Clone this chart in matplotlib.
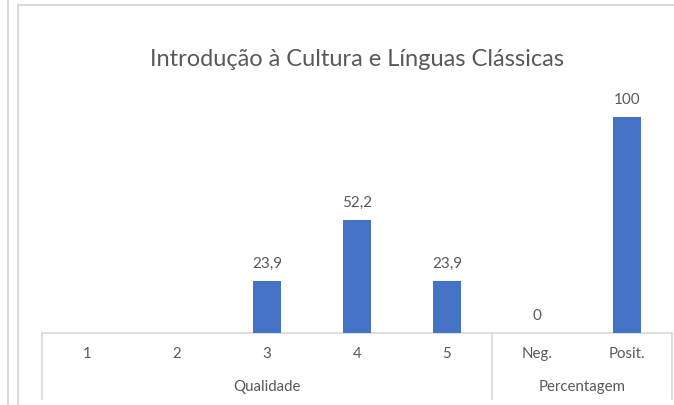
import matplotlib.pyplot as plt
from matplotlib.lines import Line2D

# dados do grafico
categorias = ['1', '2', '3', '4', '5', 'Neg.', 'Posit.']
valores = [None, None, 23.9, 52.2, 23.9, 0, 100]
rotulos = ['', '', '23,9', '52,2', '23,9', '0', '100']
grupos = ['Qualidade', 'Percentagem']
tam_grupos = [5, 2]

titulo = 'Introdução à Cultura e Línguas Clássicas'

W, H = 674, 406
AZUL = '#4472C4'
CINZA_TXT = '#595959'
CINZA_LIN = '#D9D9D9'

plt.rcParams['font.family'] = ['Lato', 'DejaVu Sans']

fig = plt.figure(figsize=(W / 100, H / 100), dpi=100)


def px(x, y):
    # pixel (a partir do topo) -> fracao da figura
    return x / W, 1 - y / H


# area do eixo: x 42..672, y 118(=100)..334(=0)
x0, y_base = px(42, 334)
x1, y_topo = px(672, 118)
ax = fig.add_axes([x0, y_base, x1 - x0, y_topo - y_base])

n = len(categorias)
xs = list(range(n))
alturas = [v if v is not None else 0 for v in valores]
ax.bar(xs, alturas, width=0.31, color=AZUL, zorder=2)

for x, v, r in zip(xs, alturas, rotulos):
    if r:
        ax.annotate(r, (x, v), xytext=(0, 8), textcoords='offset points',
                    ha='center', va='bottom', fontsize=11, color=CINZA_TXT,
                    annotation_clip=False)

ax.set_xlim(-0.5, n - 0.5)
ax.set_ylim(0, 100)
ax.axis('off')

# linha do eixo horizontal
ax.plot([-0.5, n - 0.5], [0, 0], color=CINZA_LIN, lw=1.2, clip_on=False, zorder=1)

# rotulos das categorias e dos grupos
trans = ax.get_xaxis_transform()
y_tick = -(354 - 334) / 216
y_grupo = -(387 - 334) / 216
y_fundo = -(400 - 334) / 216
for x, c in zip(xs, categorias):
    ax.text(x, y_tick, c, transform=trans, ha='center', va='center',
            fontsize=10.8, color=CINZA_TXT)

inicio = -0.5
divisores = [inicio]
for g, t in zip(grupos, tam_grupos):
    ax.text(inicio + t / 2, y_grupo, g, transform=trans, ha='center', va='center',
            fontsize=10.8, color=CINZA_TXT)
    inicio += t
    divisores.append(inicio)

for d in divisores:
    ax.plot([d, d], [0, y_fundo], transform=trans, color=CINZA_LIN, lw=1.2,
            clip_on=False)

# titulo
tx, ty = px(357, 60)
fig.text(tx, ty, titulo, ha='center', va='center', fontsize=17, color=CINZA_TXT)

# bordas do grafico (recorte da planilha)
for (xa, ya), (xb, yb) in [((8, 0), (8, H)), ((18, 6), (18, H)), ((18, 6), (W, 6))]:
    pa, pb = px(xa, ya), px(xb, yb)
    fig.add_artist(Line2D([pa[0], pb[0]], [pa[1], pb[1]], color=CINZA_LIN, lw=1.5))

fig.savefig('out.png', dpi=100)
